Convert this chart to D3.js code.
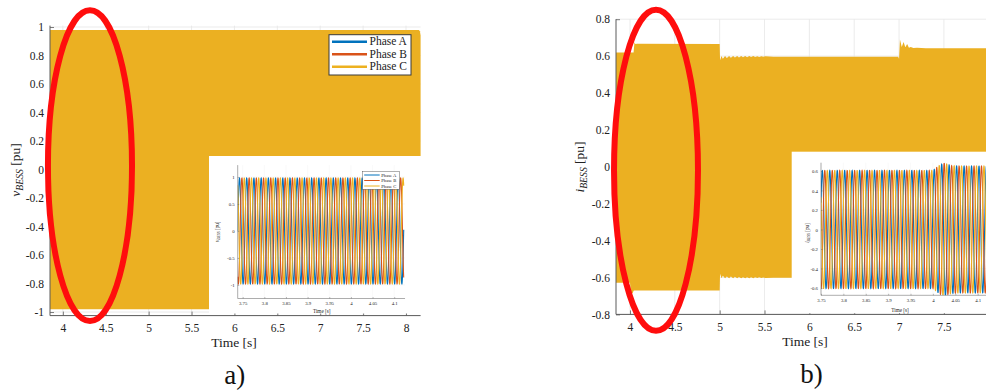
<!DOCTYPE html>
<html>
<head>
<meta charset="utf-8">
<script src="https://cdn.jsdelivr.net/npm/d3@7/dist/d3.min.js"></script>
<style>
  html, body { margin: 0; padding: 0; background: #fff; }
  svg, svg text { font-family: "Liberation Serif", "DejaVu Serif", serif; }
  svg { display: block; }
</style>
</head>
<body>
<svg id="fig" width="986" height="391"></svg>
<script>
// ---------------- data ----------------
const phaseNames = ["Phase A", "Phase B", "Phase C"];
const phaseColors = ["#0072BD", "#D95319", "#EDB120"];
const phaseShiftDeg = [0, -120, 120];
const gridFreqHz = 60;

const timeTicks = [4, 4.5, 5, 5.5, 6, 6.5, 7, 7.5, 8];
const vTicks = [-1, -0.8, -0.6, -0.4, -0.2, 0, 0.2, 0.4, 0.6, 0.8, 1];
const iTicks = [-0.8, -0.6, -0.4, -0.2, 0, 0.2, 0.4, 0.6, 0.8];
const insetTimeTicks = [3.75, 3.8, 3.85, 3.9, 3.95, 4, 4.05, 4.1];
const vInsetTicks = [-1, -0.5, 0, 0.5, 1];
const iInsetTicks = [-0.6, -0.4, -0.2, 0, 0.2, 0.4, 0.6];

// BESS voltage: peak envelope of the three-phase waveform (pu)
const vEnvTime  = [3.85, 8.15, 8.162, 8.17];
const vEnvUpper = [0.98, 0.98, 0.97, 0.94];
const vEnvLower = [-0.98, -0.98, -0.97, -0.94];

// BESS current: peak envelope of the three-phase waveform (pu)
const iEnvTime = [3.844, 4.000, 4.010, 4.030, 4.040, 4.050, 4.060, 4.080, 5.000, 5.004,
  5.020, 5.035, 5.060, 5.080, 5.105, 5.125, 5.150, 5.170, 5.195, 5.215, 5.240, 5.260,
  5.285, 5.305, 5.330, 5.350, 5.375, 5.395, 5.420, 5.440, 5.465, 5.485, 5.510, 5.600,
  6.990, 7.000, 7.010, 7.030, 7.050, 7.070, 7.090, 7.110, 7.130, 7.160, 7.200, 7.300, 8.170];
const iEnvUpper = [0.620, 0.620, 0.620, 0.620, 0.620, 0.675, 0.665, 0.667, 0.665, 0.578,
  0.600, 0.586, 0.600, 0.590, 0.600, 0.591, 0.600, 0.592, 0.600, 0.593, 0.600, 0.594,
  0.600, 0.594, 0.600, 0.595, 0.600, 0.595, 0.599, 0.595, 0.599, 0.596, 0.599, 0.597,
  0.597, 0.585, 0.690, 0.650, 0.676, 0.648, 0.666, 0.645, 0.650, 0.644, 0.645, 0.643, 0.643];
const iEnvLower = [-0.628, -0.628, -0.685, -0.685, -0.672, -0.670, -0.670, -0.671, -0.670, -0.580,
  -0.604, -0.590, -0.604, -0.594, -0.604, -0.595, -0.604, -0.596, -0.604, -0.597, -0.604, -0.598,
  -0.604, -0.598, -0.604, -0.599, -0.604, -0.599, -0.603, -0.599, -0.603, -0.600, -0.603, -0.601,
  -0.601, -0.590, -0.690, -0.650, -0.676, -0.648, -0.666, -0.645, -0.650, -0.644, -0.645, -0.643, -0.643];

// zoomed windows: amplitude of each phase over time (pu)
const vInsetTime = [3.7385, 4.122];
const vInsetAmp  = [0.98, 0.98];
const vInsetStartDeg = 0;
const iInsetTime = [3.75, 4.000, 4.015, 4.025, 4.040, 4.060, 4.125];
const iInsetAmp  = [0.605, 0.605, 0.660, 0.680, 0.655, 0.650, 0.650];
const iInsetStartDeg = 27;

// ---------------- helpers ----------------
const svg = d3.select("#fig");
const SERIF = "'Liberation Serif', 'DejaVu Serif', serif";
const FILL = "#EBB022";
const AXIS = "#5a5a5a";
const GRID = "#e6e6e6";
const fmt = v => String(v);

function phaseSeries(t0, t1, envT, envA, startDeg, shiftDeg) {
  const amp = d3.scaleLinear().domain(envT).range(envA).clamp(true);
  const pts = [];
  for (let t = t0; t <= t1 + 1e-9; t += 0.0002) {
    const ang = 2 * Math.PI * gridFreqHz * (t - t0) + (startDeg + shiftDeg) * Math.PI / 180;
    pts.push([t, amp(t) * Math.sin(ang)]);
  }
  return pts;
}

function grid(g, x, y, xt, yt, color, w) {
  const [y0, y1] = y.range();
  const [x0, x1] = x.range();
  g.selectAll(null).data(xt).join("line")
    .attr("x1", d => x(d)).attr("x2", d => x(d))
    .attr("y1", y0).attr("y2", y1)
    .attr("stroke", color).attr("stroke-width", w);
  g.selectAll(null).data(yt).join("line")
    .attr("x1", x0).attr("x2", x1)
    .attr("y1", d => y(d)).attr("y2", d => y(d))
    .attr("stroke", color).attr("stroke-width", w);
}

function axisTicks(g, x, y, xt, yt, o) {
  const xBase = y.range()[0];
  const yBase = x.range()[0];
  const gx = g.append("g").attr("transform", `translate(0,${xBase})`)
    .call(d3.axisBottom(x).tickValues(xt).tickFormat(fmt).tickSizeInner(-o.tick).tickSizeOuter(0).tickPadding(o.xPad));
  const gy = g.append("g").attr("transform", `translate(${yBase},0)`)
    .call(d3.axisLeft(y).tickValues(yt).tickFormat(fmt).tickSizeInner(-o.tick).tickSizeOuter(0).tickPadding(o.yPad));
  [gx, gy].forEach(a => {
    a.attr("font-family", null).attr("font-size", null);
    a.select(".domain").remove();
    a.selectAll(".tick line").attr("stroke", AXIS).attr("stroke-width", o.lw);
    a.selectAll(".tick text").attr("fill", "#222")
      .style("font-family", SERIF).style("font-size", o.fs + "px");
  });
}

function axisLines(g, x, y, lw) {
  const [x0, x1] = x.range();
  const [y0, y1] = y.range();
  g.append("line").attr("x1", x0).attr("x2", x1).attr("y1", y0).attr("y2", y0)
    .attr("stroke", AXIS).attr("stroke-width", lw);
  g.append("line").attr("x1", x0).attr("x2", x0).attr("y1", y0).attr("y2", y1)
    .attr("stroke", AXIS).attr("stroke-width", lw);
}

function yLabel(g, cx, cy, sym, fs) {
  const t = g.append("text")
    .attr("transform", `translate(${cx},${cy}) rotate(-90)`)
    .attr("text-anchor", "middle").style("font-size", fs + "px").attr("fill", "#222");
  t.append("tspan").attr("font-style", "italic").text(sym);
  t.append("tspan").attr("font-style", "italic").style("font-size", (fs * 0.72) + "px")
    .attr("dy", fs * 0.22).text("BESS");
  t.append("tspan").attr("dy", -fs * 0.22).text(" [pu]");
}

function xLabel(g, cx, by, fs) {
  g.append("text").attr("x", cx).attr("y", by).attr("text-anchor", "middle")
    .style("font-size", fs + "px").attr("fill", "#222").text("Time [s]");
}

function envelopeArea(g, x, y, T, U, L) {
  const rows = T.map((t, k) => ({ t, u: U[k], l: L[k] }));
  g.append("path").datum(rows)
    .attr("d", d3.area().x(d => x(d.t)).y0(d => y(d.l)).y1(d => y(d.u)))
    .attr("fill", FILL);
}

function insetLines(g, x, y, id, t0, t1, envT, envA, startDeg) {
  const [x0, x1] = x.range();
  const [y0, y1] = y.range();
  svg.append("defs").append("clipPath").attr("id", id)
    .append("rect").attr("x", x0).attr("y", y1).attr("width", x1 - x0).attr("height", y0 - y1);
  const line = d3.line().x(d => x(d[0])).y(d => y(d[1]));
  const lg = g.append("g").attr("clip-path", `url(#${id})`);
  phaseNames.forEach((n, k) => {
    lg.append("path").datum(phaseSeries(t0, t1, envT, envA, startDeg, phaseShiftDeg[k]))
      .attr("d", line).attr("fill", "none")
      .attr("stroke", phaseColors[k]).attr("stroke-width", 1.1);
  });
}

function legend(g, x0, y0, w, h, rows, lineLen, fs, lw, bw) {
  g.append("rect").attr("x", x0).attr("y", y0).attr("width", w).attr("height", h)
    .attr("fill", "#fff").attr("stroke", "#3a3a3a").attr("stroke-width", bw);
  phaseNames.forEach((n, k) => {
    const yy = y0 + rows[k];
    g.append("line").attr("x1", x0 + lineLen[0]).attr("x2", x0 + lineLen[1])
      .attr("y1", yy).attr("y2", yy).attr("stroke", phaseColors[k]).attr("stroke-width", lw);
    g.append("text").attr("x", x0 + lineLen[1] + lineLen[2]).attr("y", yy + fs * 0.33)
      .style("font-size", fs + "px").attr("fill", "#222").text(n);
  });
}

// ---------------- panel a: voltage ----------------
const xa = d3.scaleLinear().domain([3.85, 8.17]).range([50, 420.6]);
const ya = d3.scaleLinear().domain([-1.025, 1.01]).range([315.6, 25.6]);
const pa = svg.append("g");
grid(pa, xa, ya, timeTicks, vTicks, GRID, 0.8);
axisTicks(pa, xa, ya, timeTicks, vTicks, { tick: 4, xPad: 8, yPad: 6, fs: 11.5, lw: 0.8 });
envelopeArea(pa, xa, ya, vEnvTime, vEnvUpper, vEnvLower);

// zoomed window a
pa.append("rect").attr("x", 209).attr("y", 156).attr("width", 213).attr("height", 157.5).attr("fill", "#fff");
const xia = d3.scaleLinear().domain([3.7385, 4.125]).range([237.7, 405.05]);
const yia = d3.scaleLinear().domain([-1.25, 1.22]).range([298.5, 165.1]);
const ia = pa.append("g");
grid(ia, xia, yia, insetTimeTicks, vInsetTicks, "#efefef", 0.4);
insetLines(ia, xia, yia, "clipA", 3.7385, 4.122, vInsetTime, vInsetAmp, vInsetStartDeg);
axisTicks(ia, xia, yia, insetTimeTicks, vInsetTicks, { tick: 1.5, xPad: 3, yPad: 3, fs: 4.8, lw: 0.4 });
axisLines(ia, xia, yia, 0.5);
xLabel(ia, 321.7, 313, 5.2);
yLabel(ia, 219, 231.7, "v", 5.2);
legend(ia, 362.7, 171.7, 36.6, 17.6, [3.3, 8.8, 14.3], [1.5, 17, 1.6], 4.6, 1, 0.4);

axisLines(pa, xa, ya, 1);
xLabel(pa, 234, 347, 13.5);
yLabel(pa, 20, 170, "v", 13.5);
legend(pa, 329, 34.7, 82, 40.3, [7, 19.6, 32], [3, 38, 2.5], 11.5, 2.4, 1);
pa.append("text").attr("x", 234.7).attr("y", 384).attr("text-anchor", "middle")
  .style("font-size", "27px").attr("fill", "#111").text("a)");

// ---------------- panel b: current ----------------
const xb = d3.scaleLinear().domain([3.844, 8.17]).range([616, 1004.0]);
const yb = d3.scaleLinear().domain([-0.8, 0.8]).range([314.4, 19.2]);
const pb = svg.append("g");
grid(pb, xb, yb, timeTicks, iTicks, GRID, 0.8);
axisTicks(pb, xb, yb, timeTicks, iTicks, { tick: 4, xPad: 8, yPad: 6, fs: 11.5, lw: 0.8 });
envelopeArea(pb, xb, yb, iEnvTime, iEnvUpper, iEnvLower);

// zoomed window b
pb.append("rect").attr("x", 791.7).attr("y", 151.7).attr("width", 200).attr("height", 161.5).attr("fill", "#fff");
const xib = d3.scaleLinear().domain([3.75, 4.125]).range([821, 988.9]);
const yib = d3.scaleLinear().domain([-0.675, 0.685]).range([295.3, 162.7]);
const ib = pb.append("g");
grid(ib, xib, yib, insetTimeTicks, iInsetTicks, "#efefef", 0.4);
insetLines(ib, xib, yib, "clipB", 3.75, 4.125, iInsetTime, iInsetAmp, iInsetStartDeg);
axisTicks(ib, xib, yib, insetTimeTicks, iInsetTicks, { tick: 1.5, xPad: 3, yPad: 3, fs: 4.8, lw: 0.4 });
axisLines(ib, xib, yib, 0.5);
xLabel(ib, 900, 312, 5.2);
yLabel(ib, 809, 233, "i", 5.2);

axisLines(pb, xb, yb, 1);
xLabel(pb, 805, 346, 13.5);
yLabel(pb, 584, 167, "i", 13.5);
pb.append("text").attr("x", 811.5).attr("y", 383).attr("text-anchor", "middle")
  .style("font-size", "27px").attr("fill", "#111").text("b)");

// ---------------- highlight ellipses ----------------
function highlight(x, y, tc, vc, rt, rv) {
  svg.append("ellipse")
    .attr("cx", x(tc)).attr("cy", y(vc))
    .attr("rx", x(tc + rt) - x(tc)).attr("ry", y(vc) - y(vc + rv))
    .attr("fill", "none").attr("stroke", "#ff0d0d").attr("stroke-width", 6);
}
highlight(xa, ya, 4.316, 0.027, 0.49, 1.09);
highlight(xb, yb, 4.290, -0.019, 0.468, 0.870);
</script>
</body>
</html>
